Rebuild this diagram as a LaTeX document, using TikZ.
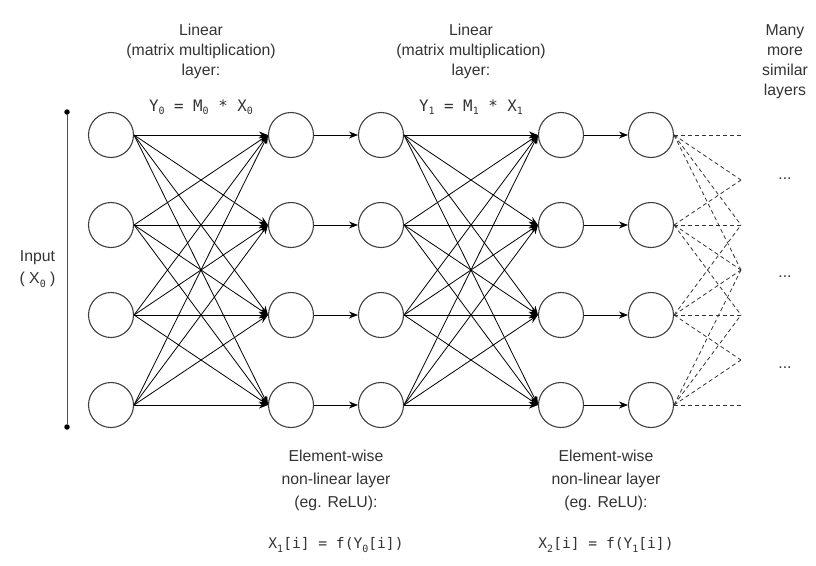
\documentclass[tikz,border=0pt]{standalone}
\usepackage{fontspec}
\setmainfont{Liberation Sans}
\newfontfamily\codefont{DejaVu Sans Mono}
\usetikzlibrary{arrows.meta}
\newcommand{\lowsub}[1]{\raisebox{-0.4ex}{\fontsize{10}{10}\selectfont #1}}

\begin{document}
\begin{tikzpicture}[x=1pt, y=-1pt, font=\fontsize{15.8}{20}\selectfont, text=black!80]
        \tikzstyle{neuron}=[draw=black!75, line width=1.1pt, shape=circle, minimum size=45pt, inner sep=0pt];
        \tikzstyle{weight}=[line width=0.8pt, -{Stealth[length=9pt, width=7pt]}];
        \tikzstyle{fanout}=[line width=0.8pt, dash pattern=on 4pt off 3pt, black!80];
        \tikzstyle{caption}=[align=center, inner sep=0pt];
        \tikzstyle{bardot}=[shape=circle, fill=black, inner sep=0pt, minimum size=5.5pt];
        \useasboundingbox (0,0) rectangle (816,565);

        % input bar
        \node[bardot] (bartop) at (67, 112) {};
        \node[bardot] (barbot) at (67, 427) {};
        \draw[line width=1pt, black!70] (bartop) -- (barbot);
        \node[caption, font=\fontsize{15.8}{22}\selectfont] (input) at (37.5, 269) {Input\\( X\lowsub{\codefont 0} )};

        % neurons, 5 columns of 4
        \foreach \x [count=\c] in {111, 291, 381, 561, 651}{
          \foreach \y [count=\r] in {135, 225, 315, 405}{
            \node[neuron] (n\c\r) at (\x, \y) {};
          }
        }

        % linear layers: all to all
        \foreach \a/\b in {1/2, 3/4}{
          \foreach \i in {1,...,4}{
            \foreach \j in {1,...,4}{
              \draw[weight] (n\a\i.east) -- (n\b\j.west);
            }
          }
        }

        % element-wise layers: one to one
        \foreach \a/\b in {2/3, 4/5}{
          \foreach \i in {1,...,4}{
            \draw[weight] (n\a\i.east) -- (n\b\i.west);
          }
        }

        % next layers (dashed)
        \foreach \k in {1,...,7}{
          \coordinate (t\k) at (741, 90+45*\k);
        }
        \foreach \i in {1,...,4}{
          \foreach \d in {0,...,3}{
            \pgfmathtruncatemacro{\k}{\i+\d}
            \draw[fanout] (n5\i.east) -- (t\k);
          }
        }
        \node (more1) at (785, 179) {...};
        \node (more2) at (785, 277) {...};
        \node (more3) at (785, 368) {...};
        \node[caption] (many) at (785, 62) {Many\\more\\similar\\layers};

        % top captions
        \node[caption] (lin1) at (201, 51) {Linear\\(matrix multiplication)\\layer:};
        \node[caption] (eq1) at (201, 107) {\codefont Y\lowsub{0} = M\lowsub{0} * X\lowsub{0}};
        \node[caption] (lin2) at (471, 51) {Linear\\(matrix multiplication)\\layer:};
        \node[caption] (eq2) at (471, 107) {\codefont Y\lowsub{1} = M\lowsub{1} * X\lowsub{1}};

        % bottom captions
        \node[caption, font=\fontsize{15.8}{23}\selectfont] (nl1) at (336, 480) {Element-wise\\non-linear layer\\(eg. ReLU):};
        \node[caption, font=\fontsize{14.6}{18}\selectfont] (eq3) at (336, 545) {\codefont X\lowsub{1}[i] = f(Y\lowsub{0}[i])};
        \node[caption, font=\fontsize{15.8}{23}\selectfont] (nl2) at (606, 480) {Element-wise\\non-linear layer\\(eg. ReLU):};
        \node[caption, font=\fontsize{14.6}{18}\selectfont] (eq4) at (606, 545) {\codefont X\lowsub{2}[i] = f(Y\lowsub{1}[i])};
\end{tikzpicture}
\end{document}
